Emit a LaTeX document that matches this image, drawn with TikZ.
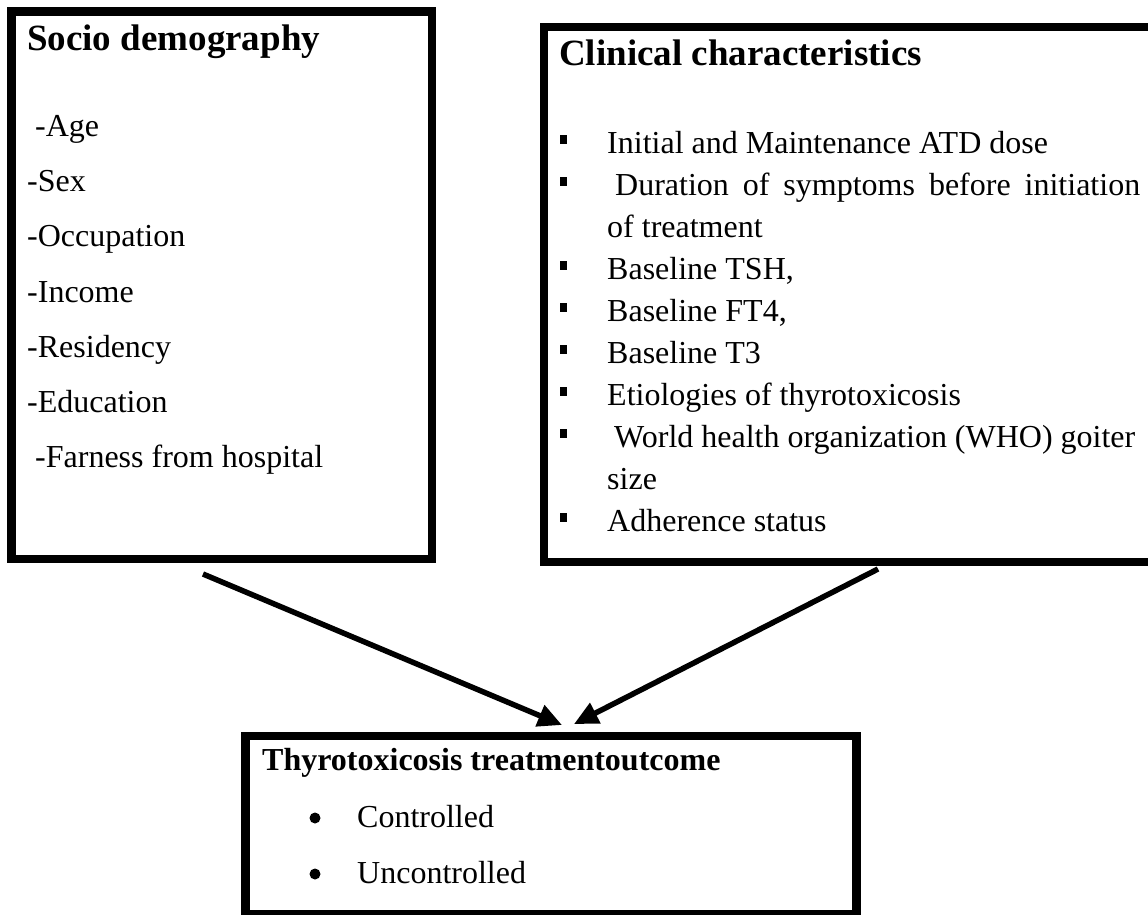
\documentclass[tikz,border=0pt]{standalone}
\usepackage{fontspec}
\setmainfont{Liberation Serif}
\usetikzlibrary{arrows.meta}
\tikzset{
  frame/.style={draw=black, line width=8.5pt, inner sep=0pt, outer sep=0pt},
  ttl/.style={anchor=base west, inner sep=0pt, font=\fontsize{37}{44}\selectfont\bfseries},
  ttlsmall/.style={anchor=base west, inner sep=0pt, font=\fontsize{32}{38}\selectfont\bfseries},
  txt/.style={anchor=base west, inner sep=0pt, font=\fontsize{32}{38}\selectfont},
  sqbullet/.style={fill=black, draw=none, minimum width=7pt, minimum height=9pt, inner sep=0pt},
  dotbullet/.style={circle, fill=black, draw=none, minimum size=11pt, inner sep=0pt},
  conn/.style={line width=5.5pt, -{Triangle[length=24pt,width=22pt]}}
}
\begin{document}
\begin{tikzpicture}[x=1pt,y=-1pt]
\useasboundingbox (0,0) rectangle (1148,914);
% boxes
\node[frame, minimum width=420.5pt, minimum height=547.5pt] (socio) at (221.5,285.25) {};
\node[frame, minimum width=616pt, minimum height=535pt] (clin) at (852,294.5) {};
\node[frame, minimum width=611pt, minimum height=178pt] (outc) at (551,825) {};
% left box text
\node[ttl] (t1) at (27,50) {Socio demography};
\node[txt] (l1) at (35,136) {-Age};
\node[txt] (l2) at (27,191) {-Sex};
\node[txt] (l3) at (27,246) {-Occupation};
\node[txt] (l4) at (27,302) {-Income};
\node[txt] (l5) at (27,357) {-Residency};
\node[txt] (l6) at (27,412) {-Education};
\node[txt] (l7) at (35,467) {-Farness from hospital};
% right box text
\node[ttl] (t2) at (559,65) {Clinical characteristics};
\node[sqbullet] (b1) at (563,139.5) {};
\node[txt] (r1) at (607,153) {Initial and Maintenance ATD dose};
\node[sqbullet] (b2) at (563,181.5) {};
\node[txt] (r2) at (615,195) {\makebox[525pt][s]{Duration of symptoms before initiation}};
\node[txt] (r2b) at (607,237) {of treatment};
\node[sqbullet] (b3) at (563,265.5) {};
\node[txt] (r3) at (607,279) {Baseline TSH,};
\node[sqbullet] (b4) at (563,307.5) {};
\node[txt] (r4) at (607,321) {Baseline FT4,};
\node[sqbullet] (b5) at (563,349.5) {};
\node[txt] (r5) at (607,363) {Baseline T3};
\node[sqbullet] (b6) at (563,391.5) {};
\node[txt] (r6) at (607,405) {Etiologies of thyrotoxicosis};
\node[sqbullet] (b7) at (563,433.5) {};
\node[txt] (r7) at (614,447) {World health organization (WHO) goiter};
\node[txt] (r7b) at (607,489) {size};
\node[sqbullet] (b8) at (563,517.5) {};
\node[txt] (r8) at (607,531) {Adherence status};
% bottom box text
\node[ttlsmall] (t3) at (262,770) {Thyrotoxicosis treatmentoutcome};
\node[dotbullet] (d1) at (315,818) {};
\node[txt] (o1) at (357,827) {Controlled};
\node[dotbullet] (d2) at (315,874) {};
\node[txt] (o2) at (357,883) {Uncontrolled};
% connectors
\coordinate (s1) at (203,574);
\coordinate (s2) at (878,569);
\coordinate (e1) at (562,725);
\coordinate (e2) at (574,724);
\draw[conn] (s1) -- (e1);
\draw[conn] (s2) -- (e2);
\end{tikzpicture}
\end{document}
